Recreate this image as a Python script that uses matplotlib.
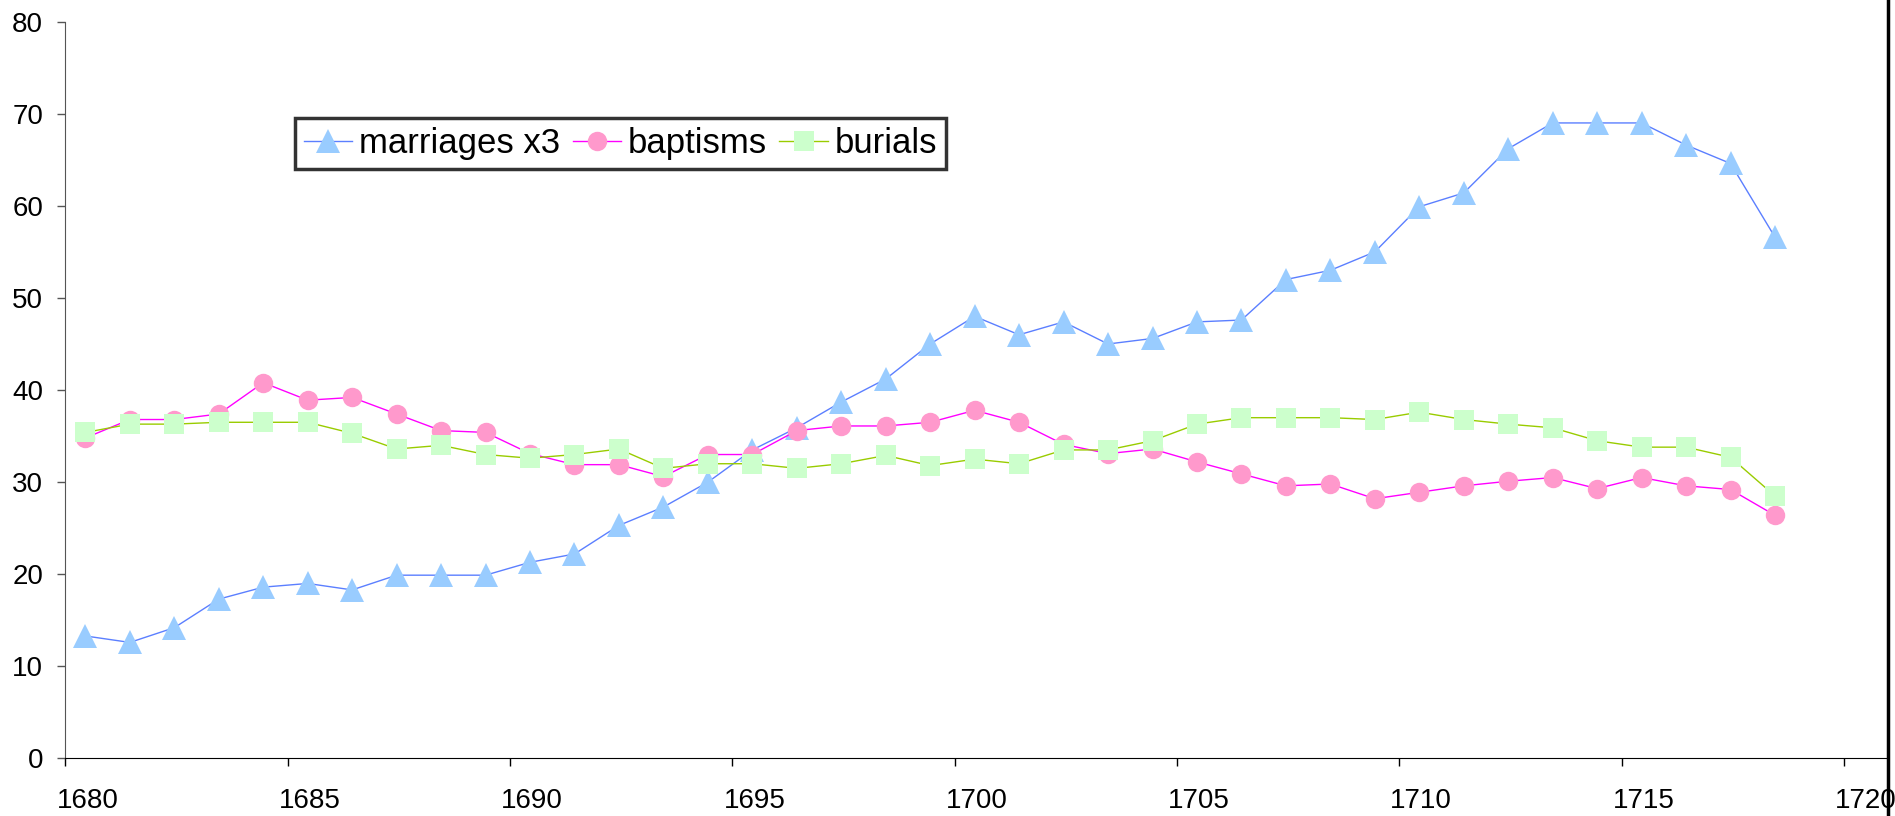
import numpy as np
import matplotlib
matplotlib.use('Agg')
from matplotlib import pyplot as plt
from matplotlib.lines import Line2D
from matplotlib.transforms import ScaledTranslation

plt.rcParams['font.family'] = ['Liberation Sans', 'DejaVu Sans']

# years of the series (points drawn mid-year)
years = list(range(1680, 1719))

marriages_x3 = [13.3, 12.6, 14.2, 17.3, 18.6, 19.0, 18.3, 19.9, 19.9, 19.9,
                21.3, 22.2, 25.3, 27.3, 30.0, 33.5, 35.9, 38.7, 41.2, 45.0,
                48.0, 46.0, 47.4, 45.0, 45.6, 47.4, 47.6, 52.0, 53.0, 55.0,
                59.9, 61.4, 66.2, 69.0, 69.0, 69.0, 66.6, 64.6, 56.6]

baptisms = [34.8, 36.8, 36.8, 37.4, 40.8, 38.9, 39.2, 37.4, 35.6, 35.4,
            33.1, 31.9, 31.9, 30.6, 33.0, 33.0, 35.6, 36.1, 36.1, 36.5,
            37.8, 36.5, 34.1, 33.1, 33.6, 32.2, 30.9, 29.6, 29.8, 28.2,
            28.9, 29.6, 30.1, 30.5, 29.3, 30.5, 29.6, 29.2, 26.4]

burials = [35.4, 36.3, 36.3, 36.5, 36.5, 36.5, 35.3, 33.6, 34.0, 33.0,
           32.6, 33.0, 33.6, 31.5, 32.0, 32.0, 31.5, 32.0, 32.9, 31.8,
           32.5, 32.0, 33.5, 33.5, 34.5, 36.3, 37.0, 37.0, 37.0, 36.8,
           37.6, 36.8, 36.3, 35.9, 34.5, 33.8, 33.8, 32.7, 28.5]

x_ticks = [1680, 1685, 1690, 1695, 1700, 1705, 1710, 1715, 1720]
y_ticks = [0, 10, 20, 30, 40, 50, 60, 70, 80]

x = np.array(years) + 0.45

fig = plt.figure(figsize=(18.95, 8.16), dpi=100)
ax = fig.add_axes([0.0345, 0.0705, 0.962, 0.903])

ax.plot(x, marriages_x3, color='#5b7fff', lw=1.0, marker='^', ms=17,
        mfc='#99ccff', mec='#99ccff', mew=0, label='marriages x3')
ax.plot(x, baptisms, color='#ff00ff', lw=1.0, marker='o', ms=14,
        mfc='#ff99cc', mec='#ff99cc', mew=0, label='baptisms')
ax.plot(x, burials, color='#99cc00', lw=1.0, marker='s', ms=14,
        mfc='#ccffcc', mec='#ccffcc', mew=0, label='burials')

ax.set_xlim(1680, 1721.0)
ax.set_ylim(0, 80)
ax.set_xticks(x_ticks)
ax.set_yticks(y_ticks)
ax.tick_params(axis='both', labelsize=20, direction='out', length=6, width=1)
ax.tick_params(axis='x', pad=15)
ax.tick_params(axis='y', pad=10, color='#555555')

# year labels sit a little to the right of their ticks
shift = ScaledTranslation(0.22, 0, fig.dpi_scale_trans)
for lab in ax.get_xticklabels():
    lab.set_transform(lab.get_transform() + shift)

ax.spines['top'].set_visible(False)
ax.spines['right'].set_visible(False)
ax.spines['left'].set_color('#555555')
ax.spines['bottom'].set_color('black')

leg = ax.legend(loc='upper left', bbox_to_anchor=(0.126, 0.869), ncol=3,
                fontsize=25, frameon=True, fancybox=False, handlelength=1.4,
                handletextpad=0.2, columnspacing=0.35, borderpad=0.25,
                borderaxespad=0)
leg.get_frame().set_edgecolor('black')
leg.get_frame().set_linewidth(2.5)

# right border of the chart area
fig.add_artist(Line2D([0.9965, 0.9965], [0.0, 1.0], color='black', lw=2.5,
                      transform=fig.transFigure))

fig.savefig('out.png', dpi=100)
